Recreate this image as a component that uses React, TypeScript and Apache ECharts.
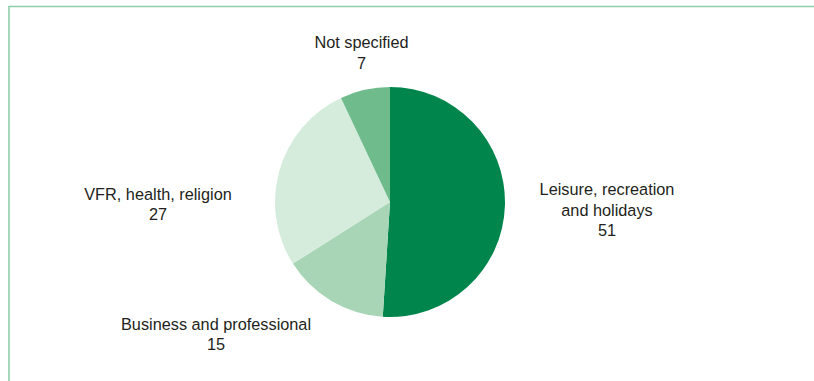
import React, { useEffect, useRef } from "react";
import * as echarts from "echarts";

const categories = [
  "Leisure, recreation\nand holidays",
  "Business and professional",
  "VFR, health, religion",
  "Not specified",
];
const values = [51, 15, 27, 7];
const colors = ["#00854c", "#a7d5b5", "#d5ecdd", "#6fbb8c"];

// label anchor (centre of text block) for each slice, in px
const labelCentres: [number, number][] = [
  [607, 209.5],
  [216, 334],
  [158, 204],
  [361.5, 52.5],
];

export default function App() {
  const ref = useRef<HTMLDivElement>(null);
  useEffect(() => {
    if (!ref.current) return;
    const chart = echarts.init(ref.current, null, { renderer: "svg" });
    chart.setOption({
      animation: false,
      backgroundColor: "#ffffff",
      graphic: [
        {
          type: "line",
          shape: { x1: 9, y1: 6.5, x2: 814, y2: 6.5 },
          style: { stroke: "#8ecfa9", lineWidth: 1.6 },
        },
        {
          type: "line",
          shape: { x1: 9, y1: 6, x2: 9, y2: 381 },
          style: { stroke: "#8ecfa9", lineWidth: 1.6 },
        },
      ],
      series: [
        {
          type: "pie",
          center: [390, 202],
          radius: 115,
          startAngle: 90,
          clockwise: true,
          silent: true,
          itemStyle: { borderWidth: 0 },
          labelLine: { show: false },
          label: {
            show: true,
            formatter: "{b}\n{c}",
            fontFamily: "Liberation Sans, Arial, sans-serif",
            fontSize: 16.3,
            lineHeight: 20.5,
            color: "#231f20",
            align: "center",
          },
          labelLayout: (params: any) => {
            const p = labelCentres[params.dataIndex];
            return { x: p[0], y: p[1], align: "center", verticalAlign: "middle" };
          },
          data: categories.map((name, i) => ({
            name,
            value: values[i],
            itemStyle: { color: colors[i] },
          })),
        },
      ],
    });
    return () => chart.dispose();
  }, []);
  return (
    <div
      ref={ref}
      style={{ position: "fixed", left: 0, top: 0, width: 814, height: 381 }}
    />
  );
}
